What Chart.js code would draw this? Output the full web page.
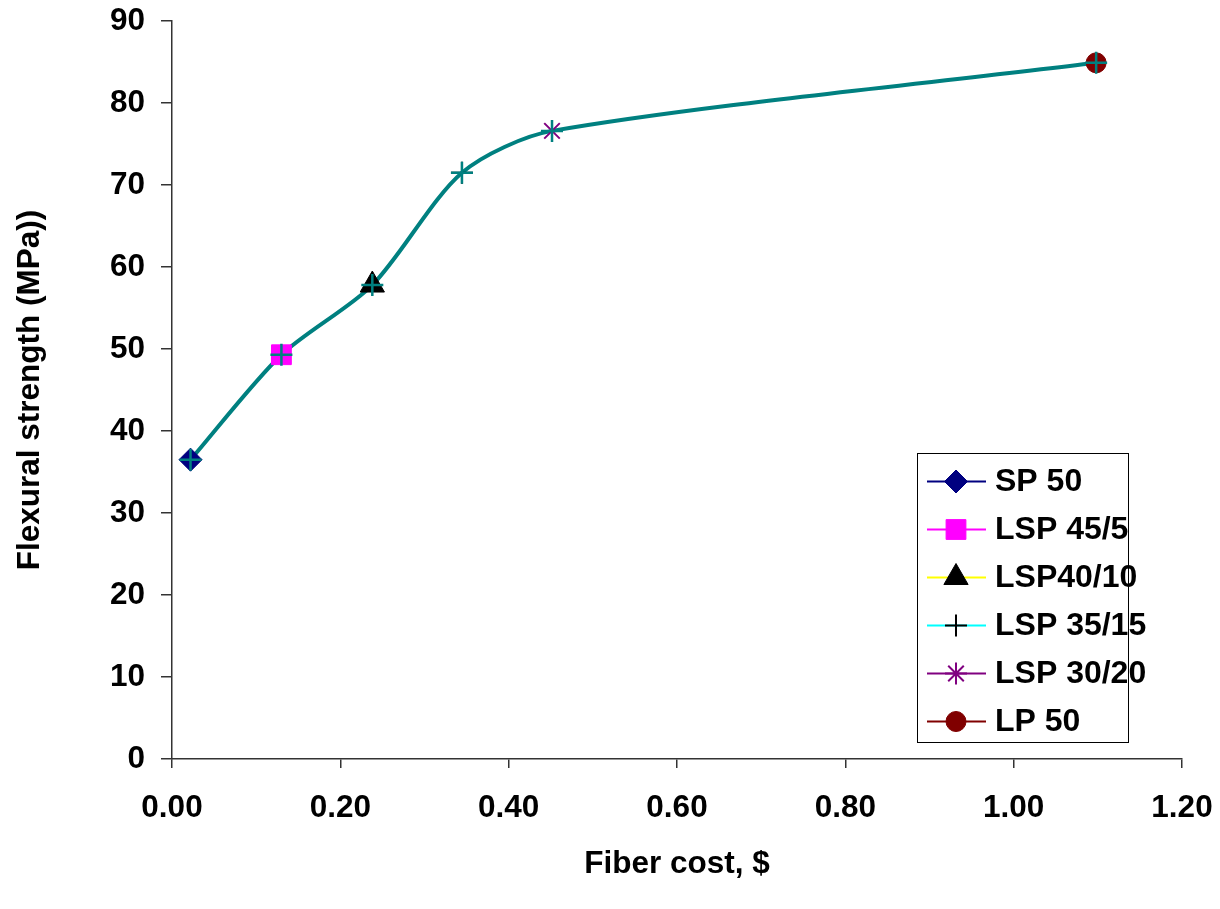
<!DOCTYPE html>
<html><head><meta charset="utf-8">
<script src="https://cdn.jsdelivr.net/npm/chart.js@4/dist/chart.umd.min.js"></script>
<style>html,body{margin:0;padding:0;background:#fff}#wrap{width:1220px;height:909px}</style>
</head><body><div id="wrap"><canvas id="c" width="1220" height="909"></canvas></div>
<script>
const seriesNames = ['SP 50', 'LSP 45/5', 'LSP40/10', 'LSP 35/15', 'LSP 30/20', 'LP 50'];
const fiberCost = [0.022, 0.130, 0.238, 0.3445, 0.4515, 1.098];
const flexStrength = [36.5, 49.3, 57.8, 71.5, 76.6, 84.9];
const xTicks = [0, 0.2, 0.4, 0.6, 0.8, 1.0, 1.2];
const yTicks = [0, 10, 20, 30, 40, 50, 60, 70, 80, 90];

const markerStyle = [
  {shape:'rectRot', r:11.5, fill:'#000080', stroke:'#000080', line:'#000080'},
  {shape:'rect', r:14, fill:'#FF00FF', stroke:'#FF00FF', line:'#FF00FF'},
  {shape:'triangle', r:14, fill:'#000000', stroke:'#000000', line:'#FFFF00'},
  {shape:'cross', r:11, fill:'#000000', stroke:'#000000', line:'#00FFFF'},
  {shape:'star', r:11, fill:'#800080', stroke:'#800080', line:'#800080'},
  {shape:'circle', r:10, fill:'#800000', stroke:'#800000', line:'#800000'}
];
const FONT = "'Liberation Sans', Arial, sans-serif";

const datasets = [];
datasets.push({
  label: '_curve', data: fiberCost.map((x,i)=>({x, y: flexStrength[i]})),
  showLine: true, borderColor:'#008080', borderWidth:4, tension:0.28,
  pointRadius:0, order: 10, fill:false
});
seriesNames.forEach((n,i)=>{
  const m = markerStyle[i];
  datasets.push({
    label: n, data:[{x: fiberCost[i], y: flexStrength[i]}], showLine:false,
    pointStyle: m.shape, pointRadius: m.r, pointHoverRadius: m.r,
    backgroundColor: m.fill, borderColor: m.stroke, pointBorderWidth: (m.shape==='cross'||m.shape==='star')?2:1,
    order: 5
  });
});
datasets.push({
  label: '_plus', data: fiberCost.map((x,i)=>({x, y: flexStrength[i]})), showLine:false,
  pointStyle:'cross', pointRadius:11, borderColor:'#008080', backgroundColor:'#008080', pointBorderWidth:2.5, order: 1
});

const legendPlugin = {
  id:'boxLegend',
  afterDraw(chart){
    const ctx = chart.ctx;
    const bx=917, by=453, bw=211, bh=289;
    ctx.save();
    ctx.strokeStyle='#000'; ctx.lineWidth=1;
    ctx.strokeRect(bx+0.5, by+0.5, bw, bh);
    ctx.font = "bold 32px " + FONT;
    ctx.textBaseline='middle'; ctx.fillStyle='#000';
    seriesNames.forEach((n,i)=>{
      const m = markerStyle[i];
      const cy = 481.5 + i*48;
      ctx.strokeStyle = m.line; ctx.lineWidth = 2;
      ctx.beginPath(); ctx.moveTo(927, cy); ctx.lineTo(986, cy); ctx.stroke();
      ctx.fillStyle = m.fill; ctx.strokeStyle = m.stroke;
      ctx.lineWidth = (m.shape==='cross'||m.shape==='star')?2:1;
      Chart.helpers.drawPoint(ctx, {pointStyle:m.shape, radius:m.r, rotation:0, borderWidth:ctx.lineWidth}, 956, cy);
      ctx.fillStyle='#000';
      ctx.fillText(n, 995, cy+1);
    });
    ctx.restore();
  }
};

new Chart(document.getElementById('c'), {
  type:'scatter',
  data:{datasets},
  options:{
    responsive:false, animation:false, devicePixelRatio:1,
    layout:{padding:{top:21, right:38, left:0, bottom:0}},
    plugins:{legend:{display:false}, tooltip:{enabled:false}},
    scales:{
      x:{
        type:'linear', min:0, max:1.2,
        afterBuildTicks(s){ s.ticks = xTicks.map(v=>({value:v})); },
        afterFit(s){ s.height = 150; s.paddingLeft = 0; s.paddingRight = 0; },
        grid:{drawOnChartArea:false, drawTicks:true, tickLength:9, color:'#333', lineWidth:1.5},
        border:{display:true, color:'#333', width:1.5},
        ticks:{color:'#000', padding:21, font:{family:FONT, size:31.5, weight:'bold'}, maxRotation:0,
          callback:v=>v.toFixed(2)},
        title:{display:true, text:'Fiber cost, $', color:'#000', font:{family:FONT, size:31.5, weight:'bold'}, padding:{top:0,bottom:26}}
      },
      y:{
        type:'linear', min:0, max:90,
        afterBuildTicks(s){ s.ticks = yTicks.map(v=>({value:v})); },
        afterFit(s){ s.width = 172; s.paddingTop = 0; s.paddingBottom = 0; },
        grid:{drawOnChartArea:false, drawTicks:true, tickLength:11, color:'#333', lineWidth:1.5},
        border:{display:true, color:'#333', width:1.5},
        ticks:{color:'#000', padding:16, font:{family:FONT, size:31.5, weight:'bold'}},
        title:{display:true, text:'Flexural strength (MPa))', color:'#000', font:{family:FONT, size:31.5, weight:'bold'}, padding:{top:11,bottom:0}}
      }
    }
  },
  plugins:[legendPlugin]
});
</script></body></html>
